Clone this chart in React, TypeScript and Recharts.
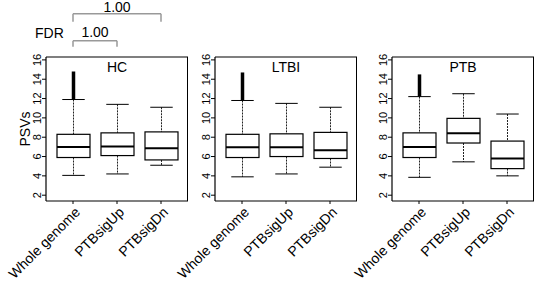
import React from "react";
import {
  ComposedChart,
  Bar,
  XAxis,
  YAxis,
  ReferenceLine,
  ReferenceArea,
} from "recharts";

const categories = ["Whole genome", "PTBsigUp", "PTBsigDn"];
const panelNames = ["HC", "LTBI", "PTB"];
const yTicks = [2, 4, 6, 8, 10, 12, 14, 16];
const yDomain = [1.4, 16.3];

// HC
const hcLow = [4.05, 4.2, 5.1];
const hcQ1 = [5.9, 6.1, 5.65];
const hcMedian = [7.0, 7.05, 6.85];
const hcQ3 = [8.3, 8.45, 8.55];
const hcHigh = [11.9, 11.4, 11.1];
const hcOutlierMax = [14.8, null, null];

// LTBI
const ltbiLow = [3.9, 4.2, 4.9];
const ltbiQ1 = [5.9, 6.0, 5.8];
const ltbiMedian = [6.95, 6.95, 6.65];
const ltbiQ3 = [8.3, 8.35, 8.5];
const ltbiHigh = [11.8, 11.5, 11.1];
const ltbiOutlierMax = [14.7, null, null];

// PTB
const ptbLow = [3.85, 5.45, 4.0];
const ptbQ1 = [5.9, 7.4, 4.75];
const ptbMedian = [7.0, 8.4, 5.8];
const ptbQ3 = [8.45, 9.95, 7.6];
const ptbHigh = [12.2, 12.5, 10.4];
const ptbOutlierMax = [14.5, null, null];

// FDR brackets (Whole genome vs PTBsigUp / PTBsigDn)
const fdrLabels = ["1.00", "1.00"];
const fdrTargets = ["PTBsigUp", "PTBsigDn"];

const buildRows = (
  low: number[],
  q1: number[],
  median: number[],
  q3: number[],
  high: number[],
  outMax: (number | null)[]
) =>
  categories.map((name, i) => ({
    name,
    low: low[i],
    q1: q1[i],
    median: median[i],
    q3: q3[i],
    high: high[i],
    outMax: outMax[i],
    range: [low[i], outMax[i] ?? high[i]],
  }));

const panels = [
  buildRows(hcLow, hcQ1, hcMedian, hcQ3, hcHigh, hcOutlierMax),
  buildRows(ltbiLow, ltbiQ1, ltbiMedian, ltbiQ3, ltbiHigh, ltbiOutlierMax),
  buildRows(ptbLow, ptbQ1, ptbMedian, ptbQ3, ptbHigh, ptbOutlierMax),
];

const plotLefts = [46, 215, 392];
const font = "'Liberation Sans', Arial, sans-serif";

const BoxShape = (props: any) => {
  const { x, y, width, height, payload } = props;
  const topPx = Math.min(y, y + height);
  const botPx = Math.max(y, y + height);
  const [lo, hi] = payload.range;
  const toPx = (v: number) => topPx + ((hi - v) / (hi - lo)) * (botPx - topPx);
  const cx = x + width / 2;
  const cap = width * 0.34;
  return (
    <g>
      <line x1={cx} x2={cx} y1={toPx(payload.high)} y2={toPx(payload.q3)} stroke="#222" strokeDasharray="2 1" />
      <line x1={cx} x2={cx} y1={toPx(payload.q1)} y2={toPx(payload.low)} stroke="#222" strokeDasharray="2 1" />
      <line x1={cx - cap} x2={cx + cap} y1={toPx(payload.high)} y2={toPx(payload.high)} stroke="#000" />
      <line x1={cx - cap} x2={cx + cap} y1={toPx(payload.low)} y2={toPx(payload.low)} stroke="#000" />
      {payload.outMax != null && (
        <line x1={cx} x2={cx} y1={toPx(payload.high)} y2={toPx(payload.outMax)} stroke="#000" strokeWidth={3.5} />
      )}
      <rect
        x={x}
        y={toPx(payload.q3)}
        width={width}
        height={toPx(payload.q1) - toPx(payload.q3)}
        fill="#fff"
        stroke="#000"
        strokeWidth={1.2}
      />
      <line x1={x} x2={x + width} y1={toPx(payload.median)} y2={toPx(payload.median)} stroke="#000" strokeWidth={2} />
    </g>
  );
};

const XTick = (props: any) => {
  const { x, y, payload } = props;
  const ax = x + 8;
  const ay = y + 9;
  return (
    <text
      x={ax}
      y={ay}
      textAnchor="end"
      fontSize={14}
      fontFamily={font}
      fill="#000"
      transform={`rotate(-45, ${ax}, ${ay})`}
    >
      {payload.value}
    </text>
  );
};

const YTick = (props: any) => {
  const { x, y, payload } = props;
  return (
    <text
      x={x}
      y={y}
      textAnchor="middle"
      fontSize={11}
      fontFamily={font}
      fill="#000"
      transform={`rotate(-90, ${x}, ${y})`}
    >
      {payload.value}
    </text>
  );
};

function Panel({ index }: { index: number }) {
  const data = panels[index];
  const left = plotLefts[index] - 46;
  return (
    <div style={{ position: "absolute", left, top: 0 }}>
      <ComposedChart
        width={189}
        height={281}
        data={data}
        margin={{ top: 57, right: 1, bottom: 0, left: 0 }}
      >
        <XAxis
          dataKey="name"
          height={80}
          interval={0}
          padding={{ left: 5, right: 5 }}
          tickSize={3}
          tickMargin={0}
          tickLine={{ stroke: "#000" }}
          axisLine={{ stroke: "#000", strokeWidth: 1.2 }}
          tick={<XTick />}
        />
        <YAxis
          type="number"
          domain={yDomain}
          allowDataOverflow
          ticks={yTicks}
          interval={0}
          width={46}
          tickSize={4}
          tickMargin={1}
          tickLine={{ stroke: "#000" }}
          axisLine={{ stroke: "#000", strokeWidth: 1.2 }}
          tick={<YTick />}
          label={
            index === 0
              ? {
                  content: ({ viewBox }: any) => {
                    const lx = viewBox.x + 30;
                    const ly = viewBox.y + viewBox.height / 2;
                    return (
                      <text
                        x={lx}
                        y={ly}
                        textAnchor="middle"
                        fontSize={14}
                        fontFamily={font}
                        fill="#000"
                        transform={`rotate(-90, ${lx}, ${ly})`}
                      >
                        PSVs
                      </text>
                    );
                  },
                }
              : undefined
          }
        />
        <ReferenceArea
          x1={categories[0]}
          x2={categories[2]}
          y1={yDomain[0]}
          y2={yDomain[1]}
          ifOverflow="visible"
          fill="none"
          fillOpacity={0}
          stroke="none"
          label={{
            value: panelNames[index],
            position: "insideTop",
            offset: 5,
            fill: "#000",
            fontSize: 14,
            fontFamily: font,
          }}
        />
        <Bar
          dataKey="range"
          barSize={33}
          isAnimationActive={false}
          shape={<BoxShape />}
        />
        <ReferenceLine
          y={yDomain[1]}
          stroke="#000"
          strokeWidth={1.2}
          ifOverflow="visible"
        />
        {index === 0 &&
          fdrTargets.map((target, k) => {
            const level = k === 0 ? 17.97 : 20.77;
            const foot = k === 0 ? 17.35 : 19.94;
            return (
              <React.Fragment key={target}>
                <ReferenceLine
                  ifOverflow="visible"
                  stroke="#999"
                  strokeWidth={1.5}
                  segment={[
                    { x: categories[0], y: foot },
                    { x: categories[0], y: level },
                  ]}
                />
                <ReferenceLine
                  ifOverflow="visible"
                  stroke="#999"
                  strokeWidth={1.5}
                  segment={[
                    { x: categories[0], y: level },
                    { x: target, y: level },
                  ]}
                  label={{
                    value: fdrLabels[k],
                    position: "top",
                    offset: k === 0 ? 4 : 2,
                    fill: "#000",
                    fontSize: 14,
                    fontFamily: font,
                  }}
                />
                <ReferenceLine
                  ifOverflow="visible"
                  stroke="#999"
                  strokeWidth={1.5}
                  segment={[
                    { x: target, y: level },
                    { x: target, y: foot },
                  ]}
                />
              </React.Fragment>
            );
          })}
      </ComposedChart>
      {/* right-hand frame edge of the plot box */}
      <div
        style={{
          position: "absolute",
          left: 46 + 142 - 1,
          top: 57,
          width: 1.2,
          height: 144,
          background: "#000",
        }}
      />
    </div>
  );
}

export default function App() {
  return (
    <div
      style={{
        position: "absolute",
        left: 0,
        top: 0,
        width: 536,
        height: 281,
        background: "#fff",
        fontFamily: font,
        overflow: "hidden",
      }}
    >
      {[0, 1, 2].map((i) => (
        <Panel key={i} index={i} />
      ))}
      <svg
        width={70}
        height={45}
        style={{ position: "absolute", left: 0, top: 0 }}
      >
        <text x={35} y={38} fontSize={14} fontFamily={font} fill="#000">
          FDR
        </text>
      </svg>
    </div>
  );
}
